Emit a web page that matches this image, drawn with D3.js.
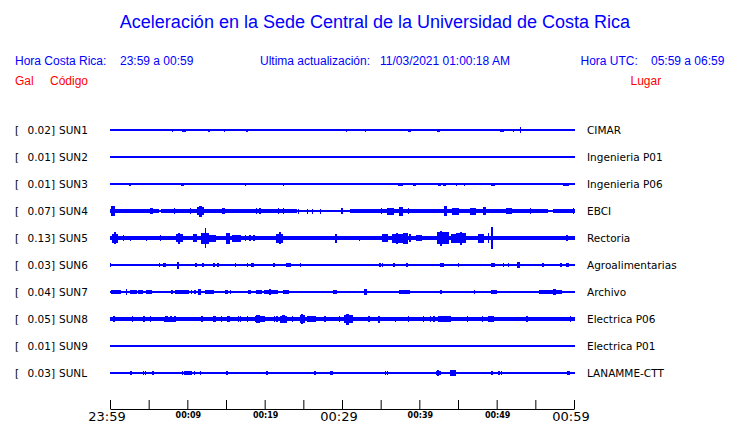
<!DOCTYPE html>
<html>
<head>
<meta charset="utf-8">
<script src="https://cdn.jsdelivr.net/npm/d3@7"></script>
<style>
  html, body { margin: 0; padding: 0; background: #fff; }
  svg { display: block; }
</style>
</head>
<body>
<div id="chart"></div>
<script>
// ---------------- DATA ----------------
const title = "Aceleración en la Sede Central de la Universidad de Costa Rica";
const horaCR = "23:59 a 00:59";
const horaUTC = "05:59 a 06:59";
const actualizacion = "11/03/2021 01:00:18 AM";

const codes = ["SUN1","SUN2","SUN3","SUN4","SUN5","SUN6","SUN7","SUN8","SUN9","SUNL"];
const places = ["CIMAR","Ingenieria P01","Ingenieria P06","EBCI","Rectoria","Agroalimentarias","Archivo","Electrica P06","Electrica P01","LANAMME-CTT"];
const galValues = [0.02, 0.01, 0.01, 0.07, 0.13, 0.03, 0.04, 0.05, 0.01, 0.03];

const tickMinutes = [0, 10, 20, 30, 40, 50, 60];
const tickLabels = ["23:59","00:09","00:19","00:29","00:39","00:49","00:59"];
const majorLabels = ["23:59","00:29","00:59"];

// background noise level per trace: [startMin, endMin, amplitude]
const noiseSUN1 = [[0,60,0.75]];
const noiseSUN2 = [[0,60,0.75]];
const noiseSUN3 = [[0,60,0.75]];
const noiseSUN4 = [[0,6.2,1.8],[6.2,6.6,1.0],[6.6,24,1.7],[24,31,1.4],[31,56.5,1.8],[56.5,57.3,1.0],[57.3,60,1.8]];
const noiseSUN5 = [[0,60,2]];
const noiseSUN6 = [[0,60,0.75]];
const noiseSUN7 = [[0,60,0.75]];
const noiseSUN8 = [[0,60,1.8]];
const noiseSUN9 = [[0,60,0.75]];
const noiseSUNL = [[0,60,0.75]];

// bursts per trace: [startMin, endMin, amplitude]
const burstSUN1 = [[6.9,6.9,1.1],[8.1,8.1,1.5],[9.4,9.7,1.5],[12.8,12.8,1.5],[13.5,13.5,1.1],[14.8,14.8,1.5],[17.7,17.7,1.5],[30.6,30.6,1.5],[33.0,33.0,1.5],[38.6,38.6,1.5],[38.8,38.8,1.5],[41.2,41.2,1.1],[42.4,42.65,1.5],[44.1,44.2,1.3],[50.5,50.9,1.5],[52.2,52.2,1.5],[53.1,53.1,2.7]];
const burstSUN2 = [];
const burstSUN3 = [[1.1,1.1,1.1],[1.9,1.9,1.1],[2.2,2.2,1.1],[2.5,2.7,1.5],[4.6,4.6,1.1],[9.2,9.45,1.5],[11.2,11.2,1.1],[12.5,12.5,1.1],[17.5,17.5,1.5],[22.4,22.4,1.5],[29.3,29.3,1.1],[30.0,30.0,1.1],[37.3,37.8,1.5],[38.3,38.3,1.3],[39.3,39.5,1.5],[40.2,40.2,1.3],[40.6,40.6,1.3],[41.2,41.2,1.1],[41.6,41.6,1.1],[42.5,42.75,1.5],[43.1,43.35,1.5],[44.2,44.2,1.1],[44.8,44.8,1.5],[45.8,45.8,1.5],[49.3,49.7,1.5],[51.0,51.0,1.1],[51.8,51.8,1.1],[52.9,52.9,1.1],[58.7,58.9,1.5],[59.1,59.3,1.5]];
const burstSUN4 = [[0.2,0.6,5],[5.3,5.5,3],[8.3,8.3,2.8],[10.4,10.4,2.8],[11.3,12.1,4],[11.6,11.8,5.5],[14.6,14.8,3],[18.9,18.9,3.2],[19.4,19.4,2.8],[21.8,21.8,2.8],[22.4,22.4,2.8],[24.4,24.4,2.5],[25.5,25.5,2.5],[26.2,26.2,2.5],[27.2,27.2,2.5],[30.0,30.0,2.8],[35.1,35.1,2.8],[35.9,36.6,3.5],[37.4,37.8,4.5],[38.6,38.6,2.8],[43.3,43.5,4.8],[44.3,45.0,3.5],[46.6,47.2,3.5],[48.3,48.5,4],[51.3,51.9,2.8],[54.4,54.4,2.8],[59.9,59.9,2.8]];
const burstSUN5 = [[0.4,0.9,4.5],[0.55,0.7,6],[1.7,1.7,3],[2.6,2.6,2.5],[4.7,4.7,2.5],[6.5,6.5,3],[8.6,9.3,4],[8.9,9.0,5.5],[10.8,11.2,4],[11.9,12.7,5.5],[12.3,12.4,10],[12.9,13.6,3.5],[15.1,15.5,5.5],[15.9,16.8,3.5],[17.5,17.5,3],[18.1,18.1,3],[18.6,18.6,3],[21.6,22.3,4.5],[21.9,22.0,6],[29.2,29.2,4.5],[32.3,32.3,2.5],[35.3,35.9,4],[36.6,37.8,4.5],[37.0,37.1,5.5],[38.0,38.4,5.5],[38.8,38.8,4],[39.6,40.3,3],[42.4,43.7,6],[42.8,42.9,7.5],[44.2,44.6,4.5],[44.8,45.9,5],[45.3,45.4,6.5],[47.6,48.3,4.5],[48.9,48.9,5],[49.4,49.5,11],[59.1,59.1,3]];
const burstSUN6 = [[0.1,0.1,2],[5.7,5.7,1.3],[6.4,6.4,1.6],[6.9,7.1,2],[8.8,8.8,3.5],[9.2,9.2,1.3],[11.05,11.15,2],[11.95,12.05,2],[13.35,13.45,2],[13.95,14.05,2],[16.2,16.2,2],[17.8,17.8,1.6],[18.3,18.5,2],[21.2,21.2,2],[22.8,23.3,2],[24.6,24.6,2],[34.9,34.9,2],[35.2,35.2,1.6],[36.7,36.7,1.6],[38.4,38.4,1.6],[42.7,43.1,2],[45.1,45.1,2],[49.3,49.7,2],[50.9,50.9,2],[51.5,51.5,1.6],[52.7,52.9,3],[53.8,53.8,1.3],[55.9,56.1,2],[58.3,58.3,2],[59.1,59.1,2],[59.3,59.3,2]];
const burstSUN7 = [[0.2,1.4,2],[2.1,2.1,3.3],[2.7,3.4,2],[3.7,4.2,2],[4.7,5.4,2],[5.7,5.7,1.3],[7.0,7.0,1.3],[8.0,8.0,1.6],[8.5,10.1,2],[10.5,10.5,1.6],[11.0,11.0,1.6],[11.5,11.7,2.6],[12.3,13.4,2.3],[14.2,14.2,1.3],[14.9,15.2,2],[15.6,15.6,1.6],[17.9,18.2,2],[19.0,19.6,1.6],[20.0,21.6,2.3],[20.7,20.8,3],[22.4,23.1,2.3],[23.5,23.5,1.3],[24.6,24.6,1.3],[25.6,26.1,1.3],[26.9,26.9,1.3],[28.9,29.3,2],[30.0,30.0,1.3],[31.3,31.3,1.3],[32.9,33.1,2.6],[34.3,34.3,1.3],[36.2,36.2,1.3],[37.5,38.7,2],[39.7,39.7,1.3],[41.2,41.2,1.3],[41.9,41.9,1.3],[42.8,42.8,1.6],[44.3,44.3,1.3],[45.0,45.0,1.3],[47.1,47.1,1.6],[49.4,50.0,1.6],[50.2,50.2,1.3],[51.3,51.3,1.3],[51.9,51.9,1.3],[54.0,54.0,1.3],[55.2,55.2,1.3],[55.6,56.5,2],[56.7,58.4,2],[57.4,57.6,3],[59.2,59.2,1.3]];
const burstSUN8 = [[0.5,0.5,3.2],[2.9,2.9,2.8],[4.4,4.4,2.8],[5.2,5.2,2.8],[7.1,8.4,2.5],[7.2,7.4,3.3],[7.9,8.0,3.3],[8.3,8.4,3.3],[9.4,9.9,2.3],[11.9,11.9,2.8],[13.4,13.6,3.2],[14.4,14.4,2.8],[15.2,15.4,3.2],[16.6,16.6,2.8],[16.9,16.9,2.8],[17.8,17.8,3.2],[18.8,20.0,3.3],[19.0,19.3,3.8],[21.3,21.3,2.8],[21.6,21.6,2.8],[22.0,22.8,3.5],[22.3,22.5,4],[23.6,23.6,2.8],[24.6,25.2,3.8],[24.8,24.9,5],[25.6,26.5,3.2],[27.8,27.8,2.8],[29.7,29.7,2.8],[30.3,31.3,4],[30.6,30.8,5.5],[33.5,33.5,2.8],[34.7,34.9,3.5],[36.9,36.9,2.5],[38.6,38.6,2.8],[40.5,40.5,2.8],[41.4,41.4,2.8],[41.9,41.9,2.8],[42.5,44.0,3.2],[46.2,46.2,2.8],[48.2,48.2,2.8],[48.9,49.6,3.2],[53.9,53.9,2.8],[59.5,59.5,2.8]];
const burstSUN9 = [[49.4,49.5,1.3]];
const burstSUNL = [[2.7,2.7,1.6],[3.0,3.0,1.3],[4.0,4.0,1.3],[4.3,4.3,1.6],[4.6,4.6,1.6],[5.55,5.65,1.6],[9.4,9.4,1.6],[9.7,10.5,2],[10.9,10.9,1.6],[11.7,11.7,1.6],[14.1,14.1,1.3],[15.05,15.15,1.6],[17.5,17.5,1.3],[20.3,20.3,1.6],[26.5,26.5,1.6],[28.5,28.7,2],[35.6,35.6,1.6],[35.9,35.9,1.6],[39.6,39.6,1.3],[40.9,40.9,1.3],[42.2,42.7,2.3],[42.4,42.45,3],[44.0,44.6,2.6],[44.25,44.35,3.3],[47.6,47.6,1.3],[49.3,49.5,2],[50.3,50.3,1.6],[50.6,50.6,1.6],[51.0,51.0,1.3],[59.2,59.4,1.6]];

const noiseList = [noiseSUN1,noiseSUN2,noiseSUN3,noiseSUN4,noiseSUN5,noiseSUN6,noiseSUN7,noiseSUN8,noiseSUN9,noiseSUNL];
const burstList = [burstSUN1,burstSUN2,burstSUN3,burstSUN4,burstSUN5,burstSUN6,burstSUN7,burstSUN8,burstSUN9,burstSUNL];

// ---------------- DRAW ----------------
const W = 740, H = 423;
const BLUE = "#0000ff", RED = "#ff0000";
const svg = d3.select("#chart").append("svg").attr("width", W).attr("height", H);

const x = d3.scaleLinear().domain([0, 60]).range([110, 574]);
const y = d3.scalePoint().domain(codes).range([130, 373]);
const amp = d3.scaleLinear().domain([0, 10]).range([0, 10]);

const sans = "'Liberation Sans', Arial, sans-serif";
const dv = "'DejaVu Sans', sans-serif";

// title + header
svg.append("text").attr("x", 375).attr("y", 28).attr("text-anchor", "middle")
  .attr("font-family", sans).attr("font-size", 18).attr("fill", BLUE).text(title);

const header = [
  {t: "Hora Costa Rica:", x: 15, y: 65, c: BLUE},
  {t: horaCR, x: 120, y: 65, c: BLUE},
  {t: "Ultima actualización:", x: 260, y: 65, c: BLUE},
  {t: actualizacion, x: 380, y: 65, c: BLUE},
  {t: "Hora UTC:", x: 580.5, y: 65, c: BLUE},
  {t: horaUTC, x: 651, y: 65, c: BLUE},
  {t: "Gal", x: 15, y: 85, c: RED},
  {t: "Código", x: 50, y: 85, c: RED},
  {t: "Lugar", x: 630.5, y: 85, c: RED}
];
svg.selectAll("text.hdr").data(header).join("text").attr("class", "hdr")
  .attr("x", d => d.x).attr("y", d => d.y).attr("fill", d => d.c)
  .attr("font-family", sans).attr("font-size", 12).text(d => d.t);

// rows
const rows = codes.map((c, i) => ({code: c, place: places[i], gal: galValues[i], noise: noiseList[i], bursts: burstList[i]}));

const g = svg.selectAll("g.row").data(rows).join("g").attr("class", "row")
  .attr("transform", d => `translate(0,${y(d.code)})`);

g.append("text").attr("x", 15).attr("y", 4).attr("font-family", dv).attr("font-size", 10.5).attr("fill", "#000").text("[");
g.append("text").attr("x", 55).attr("y", 4).attr("text-anchor", "end").attr("font-family", dv).attr("font-size", 10.5).attr("fill", "#000")
  .text(d => d3.format(".2f")(d.gal) + "]");
g.append("text").attr("x", 59).attr("y", 4).attr("font-family", dv).attr("font-size", 10.5).attr("fill", "#000").text(d => d.code);
g.append("text").attr("x", 587).attr("y", 4).attr("font-family", dv).attr("font-size", 10.5).attr("fill", "#000").text(d => d.place);

g.selectAll("rect.noise").data(d => d.noise).join("rect").attr("class", "noise")
  .attr("x", d => x(d[0])).attr("width", d => x(d[1]) - x(d[0]) + 1)
  .attr("y", d => -amp(d[2])).attr("height", d => 2 * amp(d[2]))
  .attr("fill", BLUE).attr("shape-rendering", "crispEdges");

g.selectAll("rect.burst").data(d => d.bursts).join("rect").attr("class", "burst")
  .attr("x", d => x(d[0]) - 0.6).attr("width", d => Math.max(1.3, x(d[1]) - x(d[0]) + 1.2))
  .attr("y", d => -amp(d[2])).attr("height", d => 2 * amp(d[2]))
  .attr("fill", BLUE).attr("shape-rendering", "crispEdges");

// time axis
const axis = d3.axisBottom(x).tickValues(d3.range(0, 61, 5)).tickSizeInner(-9).tickSizeOuter(0).tickFormat("");
const ax = svg.append("g").attr("transform", "translate(0,409)").call(axis);
ax.select(".domain").attr("stroke", "#000");
ax.selectAll(".tick line").attr("stroke", "#000");

const labels = tickMinutes.map((m, i) => ({m, t: tickLabels[i], major: majorLabels.includes(tickLabels[i])}));
svg.selectAll("text.tl").data(labels).join("text").attr("class", "tl")
  .attr("x", d => x(d.m) + (d.major ? -3 : 1)).attr("y", d => d.major ? 421 : 418)
  .attr("text-anchor", "middle").attr("font-family", dv)
  .attr("font-size", d => d.major ? 13 : 8).attr("font-weight", d => d.major ? "normal" : "bold")
  .attr("fill", "#000").text(d => d.t);
</script>
</body>
</html>
